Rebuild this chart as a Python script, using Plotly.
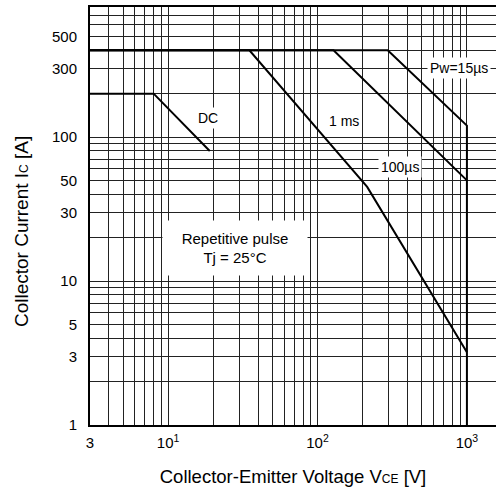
import numpy as np
import plotly.graph_objects as go

# ---- data ----
dc_v = [3, 8, 19]
dc_i = [200, 200, 80]

ms1_v = [3, 35, 215, 1000]
ms1_i = [400, 400, 45, 3.2]

us100_v = [3, 128, 1000]
us100_i = [400, 400, 50]

us15_v = [3, 295, 1000, 1000]
us15_i = [400, 400, 120, 1]

x_tick_vals = [3, 10, 100, 1000]
x_tick_text = ["3", "10<sup>1</sup>", "10<sup>2</sup>", "10<sup>3</sup>"]
y_tick_vals = [1, 3, 5, 10, 30, 50, 100, 300, 500]
y_tick_text = ["1", "3", "5", "10", "30", "50", "100", "300", "500"]

x_grid = [3, 4, 5, 6, 7, 8, 9, 10, 20, 30, 40, 50, 60, 70, 80, 90,
          100, 200, 300, 400, 500, 600, 700, 800, 900, 1000]
y_grid = [1, 2, 3, 4, 5, 6, 7, 8, 9, 10, 20, 30, 40, 50, 60, 70, 80, 90,
          100, 200, 300, 400, 500, 600, 700, 800]

labels = [
    ("DC", 18.5, 135),
    ("1 ms", 150, 130),
    ("100µs", 357, 62),
    ("Pw=15µs", 880, 300),
]
note_text = "Repetitive pulse<br>Tj = 25°C"
note_pos = (28, 17)

FONT = "Liberation Sans, Arial, sans-serif"

fig = go.Figure()
for xs, ys in [(dc_v, dc_i), (ms1_v, ms1_i), (us100_v, us100_i), (us15_v, us15_i)]:
    fig.add_trace(go.Scatter(x=xs, y=ys, mode="lines",
                             line=dict(color="black", width=2),
                             showlegend=False, hoverinfo="skip"))

for txt, xv, yv in labels:
    fig.add_annotation(x=np.log10(xv), y=np.log10(yv), text=txt, showarrow=False,
                       font=dict(family=FONT, size=14, color="black"),
                       bgcolor="white", borderpad=2)

fig.add_annotation(x=np.log10(note_pos[0]), y=np.log10(note_pos[1]), text=note_text,
                   showarrow=False, align="center", width=140, height=50,
                   font=dict(family=FONT, size=15, color="black"),
                   bgcolor="white", borderpad=2)

# y-axis title placed as paper annotation (to match reference offset)
fig.add_annotation(xref="paper", yref="paper", x=-0.167, y=0.462,
                   xanchor="center", yanchor="middle",
                   text="Collector Current I<span style='font-size:12px'>C</span> [A]",
                   textangle=-90, showarrow=False,
                   font=dict(family=FONT, size=19, color="black"))

px_per_dec_x = 149.4
px_per_dec_y = 144.0
x0 = np.log10(3)
x1 = x0 + 406 / px_per_dec_x
y1 = 418 / px_per_dec_y

fig.update_xaxes(
    type="log", range=[x0, x1], automargin=False,
    tickmode="array", tickvals=x_tick_vals, ticktext=x_tick_text,
    ticks="", showgrid=True, gridcolor="#222", gridwidth=1,
    minor=dict(tickmode="array", tickvals=x_grid, showgrid=True,
               gridcolor="#222", gridwidth=1, ticks=""),
    showline=True, linecolor="black", linewidth=2, mirror=True,
    zeroline=False,
    tickfont=dict(family=FONT, size=15, color="black"),
    ticklabelstandoff=3,
    title=dict(text="Collector-Emitter Voltage V<span style='font-size:12px'>CE</span> [V]",
               font=dict(family=FONT, size=18.5, color="black"), standoff=20),
)
fig.update_yaxes(
    type="log", range=[0, y1], automargin=False,
    tickmode="array", tickvals=y_tick_vals, ticktext=y_tick_text,
    ticks="", showgrid=True, gridcolor="#222", gridwidth=1,
    minor=dict(tickmode="array", tickvals=y_grid, showgrid=True,
               gridcolor="#222", gridwidth=1, ticks=""),
    showline=True, linecolor="black", linewidth=2,
    zeroline=False,
    tickfont=dict(family=FONT, size=15, color="black"),
    ticklabelstandoff=8,
)

fig.update_layout(
    width=496, height=488,
    margin=dict(l=90, r=0, t=7, b=63, pad=0),
    paper_bgcolor="white", plot_bgcolor="white",
)

fig.write_html("out.html", config={"displayModeBar": False},
               post_script="document.body.style.margin='0';document.body.style.overflow='hidden';")
